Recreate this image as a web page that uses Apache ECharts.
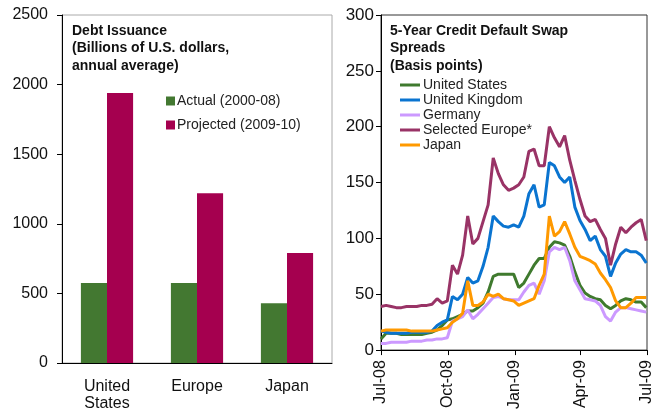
<!DOCTYPE html>
<html>
<head>
<meta charset="utf-8">
<script src="https://cdn.jsdelivr.net/npm/echarts@6/dist/echarts.min.js"></script>
<style>
  html, body { margin: 0; padding: 0; background: #fff; }
  #chart { width: 666px; height: 412px; }
</style>
</head>
<body>
<div id="chart"></div>
<script>
// left panel: debt issuance
var regions = ['United\nStates', 'Europe', 'Japan']
var actual = [575, 575, 430]
var projected = [1940, 1220, 790]
var debtTicks = [0, 500, 1000, 1500, 2000, 2500]

// right panel: CDS spreads, weekly readings
var dates = [
  '2008-07-01', '2008-07-08', '2008-07-15', '2008-07-22', '2008-07-29', '2008-08-05', '2008-08-12',
  '2008-08-19', '2008-08-26', '2008-09-02', '2008-09-09', '2008-09-16', '2008-09-23', '2008-09-30',
  '2008-10-07', '2008-10-14', '2008-10-21', '2008-10-28', '2008-11-04', '2008-11-11', '2008-11-18',
  '2008-11-25', '2008-12-02', '2008-12-09', '2008-12-16', '2008-12-23', '2008-12-30', '2009-01-06',
  '2009-01-13', '2009-01-20', '2009-01-27', '2009-02-03', '2009-02-10', '2009-02-17', '2009-02-24',
  '2009-03-03', '2009-03-10', '2009-03-17', '2009-03-24', '2009-03-31', '2009-04-07', '2009-04-14',
  '2009-04-21', '2009-04-28', '2009-05-05', '2009-05-12', '2009-05-19', '2009-05-26', '2009-06-02',
  '2009-06-09', '2009-06-16', '2009-06-23', '2009-06-30'
]
var unitedStates = [10, 15, 15, 15, 14, 14, 14, 14, 14, 15, 16, 18, 22, 27,
  28, 30, 32, 35, 35, 38, 42, 52, 66, 68, 68, 68, 68, 56,
  60, 68, 76, 82, 82, 92, 97, 96, 94, 84, 70, 58, 51, 48,
  46, 45, 40, 37, 40, 44, 46, 45, 43, 43, 38]
var unitedKingdom = [17, 16, 15, 15, 15, 15, 16, 16, 16, 16, 17, 22, 25, 27,
  48, 45, 50, 65, 60, 62, 75, 92, 120, 115, 111, 110, 112, 110,
  120, 140, 148, 128, 130, 168, 165, 155, 150, 155, 128, 116, 108, 98,
  102, 90, 84, 66, 78, 86, 90, 88, 88, 85, 78]
var germany = [6, 6, 7, 7, 7, 7, 8, 8, 8, 9, 9, 10, 10, 11,
  26, 28, 30, 36, 28, 32, 37, 42, 47, 48, 46, 45, 45, 45,
  52, 58, 60, 50, 62, 88, 92, 90, 92, 80, 62, 54, 46, 45,
  44, 40, 30, 26, 34, 38, 38, 37, 36, 35, 34]
var selectedEurope = [39, 40, 39, 38, 38, 39, 39, 39, 40, 40, 41, 46, 42, 44,
  76, 68, 85, 120, 95, 100, 115, 130, 172, 158, 148, 143, 145, 148,
  155, 178, 180, 165, 165, 200, 190, 182, 192, 170, 152, 135, 120, 115,
  117, 108, 100, 76, 95, 110, 105, 110, 114, 117, 98]
var japan = [17, 18, 18, 18, 18, 18, 17, 17, 17, 17, 17, 18, 19, 20,
  25, 28, 33, 62, 40, 40, 43, 50, 48, 50, 46, 45, 44, 40,
  42, 44, 46, 58, 68, 120, 102, 106, 115, 104, 92, 84, 82, 80,
  77, 69, 63, 56, 44, 38, 38, 42, 47, 47, 47]
var quarterTicks = ['2008-07-01', '2008-10-01', '2009-01-01', '2009-04-01', '2009-07-01']

var months = ['Jan', 'Feb', 'Mar', 'Apr', 'May', 'Jun', 'Jul', 'Aug', 'Sep', 'Oct', 'Nov', 'Dec']
function toTime (s) {
  var p = s.split('-')
  return new Date(+p[0], +p[1] - 1, +p[2]).getTime()
}
function pairs (vals) {
  return vals.map(function (v, i) { return [toTime(dates[i]), v] })
}
function plain (v) { return String(v) }
var tickTimes = quarterTicks.map(toTime)

var font = 'Liberation Sans, Arial, sans-serif'
var chart = echarts.init(document.getElementById('chart'))
chart.setOption({
  animation: false,
  textStyle: { fontFamily: font },
  title: [
    {
      text: 'Debt Issuance\n(Billions of U.S. dollars,\nannual average)',
      left: 72, top: 22, padding: 0,
      textStyle: { fontSize: 14, fontWeight: 'bold', color: '#111', lineHeight: 17.5, fontFamily: font }
    },
    {
      text: '5-Year Credit Default Swap\nSpreads\n(Basis points)',
      left: 390, top: 22, padding: 0,
      textStyle: { fontSize: 14, fontWeight: 'bold', color: '#111', lineHeight: 17.5, fontFamily: font }
    }
  ],
  legend: [
    {
      data: ['Actual (2000-08)', 'Projected (2009-10)'],
      orient: 'vertical', left: 166, top: 94, padding: 0,
      icon: 'rect', itemWidth: 9, itemHeight: 9, itemGap: 10,
      textStyle: { fontSize: 14, color: '#222', padding: [0, 0, 0, -3] }
    },
    {
      data: ['United States', 'United Kingdom', 'Germany', 'Selected Europe*', 'Japan'],
      orient: 'vertical', left: 400, top: 78, padding: 0,
      icon: 'rect', itemWidth: 20, itemHeight: 3, itemGap: 1,
      textStyle: { fontSize: 14, color: '#222', lineHeight: 14, padding: [0, 0, 0, -2] }
    }
  ],
  grid: [
    { left: 62, right: 334, top: 15, bottom: 49, show: true, borderColor: '#aaa', borderWidth: 1 },
    { left: 381, right: 19, top: 15, bottom: 61, show: true, borderColor: '#333', borderWidth: 1 }
  ],
  xAxis: [
    {
      gridIndex: 0,
      type: 'category',
      data: regions,
      axisLine: { lineStyle: { color: '#000' } },
      axisTick: { length: 5, lineStyle: { color: '#000' } },
      axisLabel: { fontSize: 16, color: '#111', margin: 15, lineHeight: 17, interval: 0 }
    },
    {
      gridIndex: 1,
      type: 'value',
      min: tickTimes[0],
      max: tickTimes[tickTimes.length - 1],
      splitLine: { show: false },
      axisLine: { lineStyle: { color: '#000' } },
      axisTick: { show: true, length: 5, customValues: tickTimes, lineStyle: { color: '#000' } },
      axisLabel: {
        customValues: tickTimes,
        rotate: 90,
        fontSize: 16,
        color: '#111',
        margin: 10,
        formatter: function (val) {
          var d = new Date(val)
          return months[d.getMonth()] + '-' + String(d.getFullYear()).slice(2)
        }
      }
    }
  ],
  yAxis: [
    {
      gridIndex: 0,
      type: 'value',
      min: debtTicks[0], max: debtTicks[debtTicks.length - 1], interval: 500,
      splitLine: { show: false },
      axisLine: { show: true, lineStyle: { color: '#000' } },
      axisTick: { show: true, length: 5, lineStyle: { color: '#000' } },
      axisLabel: { fontSize: 16, color: '#111', margin: 14, formatter: plain }
    },
    {
      gridIndex: 1,
      type: 'value',
      min: 0, max: 300, interval: 50,
      splitLine: { show: false },
      axisLine: { show: true, lineStyle: { color: '#000' } },
      axisTick: { show: true, length: 5, lineStyle: { color: '#000' } },
      axisLabel: { fontSize: 17, color: '#111', margin: 7, formatter: plain }
    }
  ],
  series: [
    {
      name: 'Actual (2000-08)', type: 'bar', xAxisIndex: 0, yAxisIndex: 0,
      data: actual, barGap: '0%', barCategoryGap: '42%',
      itemStyle: { color: '#437831' }
    },
    {
      name: 'Projected (2009-10)', type: 'bar', xAxisIndex: 0, yAxisIndex: 0,
      data: projected, barGap: '0%', barCategoryGap: '42%',
      itemStyle: { color: '#A5004F' }
    },
    {
      name: 'United States', type: 'line', xAxisIndex: 1, yAxisIndex: 1,
      data: pairs(unitedStates), showSymbol: false,
      lineStyle: { width: 3, color: '#3F7A2E' }, itemStyle: { color: '#3F7A2E' }
    },
    {
      name: 'United Kingdom', type: 'line', xAxisIndex: 1, yAxisIndex: 1,
      data: pairs(unitedKingdom), showSymbol: false,
      lineStyle: { width: 3, color: '#0A74D0' }, itemStyle: { color: '#0A74D0' }
    },
    {
      name: 'Germany', type: 'line', xAxisIndex: 1, yAxisIndex: 1,
      data: pairs(germany), showSymbol: false,
      lineStyle: { width: 3, color: '#CC99FF' }, itemStyle: { color: '#CC99FF' }
    },
    {
      name: 'Selected Europe*', type: 'line', xAxisIndex: 1, yAxisIndex: 1,
      data: pairs(selectedEurope), showSymbol: false,
      lineStyle: { width: 3, color: '#993366' }, itemStyle: { color: '#993366' }
    },
    {
      name: 'Japan', type: 'line', xAxisIndex: 1, yAxisIndex: 1,
      data: pairs(japan), showSymbol: false,
      lineStyle: { width: 3, color: '#FF9900' }, itemStyle: { color: '#FF9900' }
    }
  ]
})
</script>
</body>
</html>
